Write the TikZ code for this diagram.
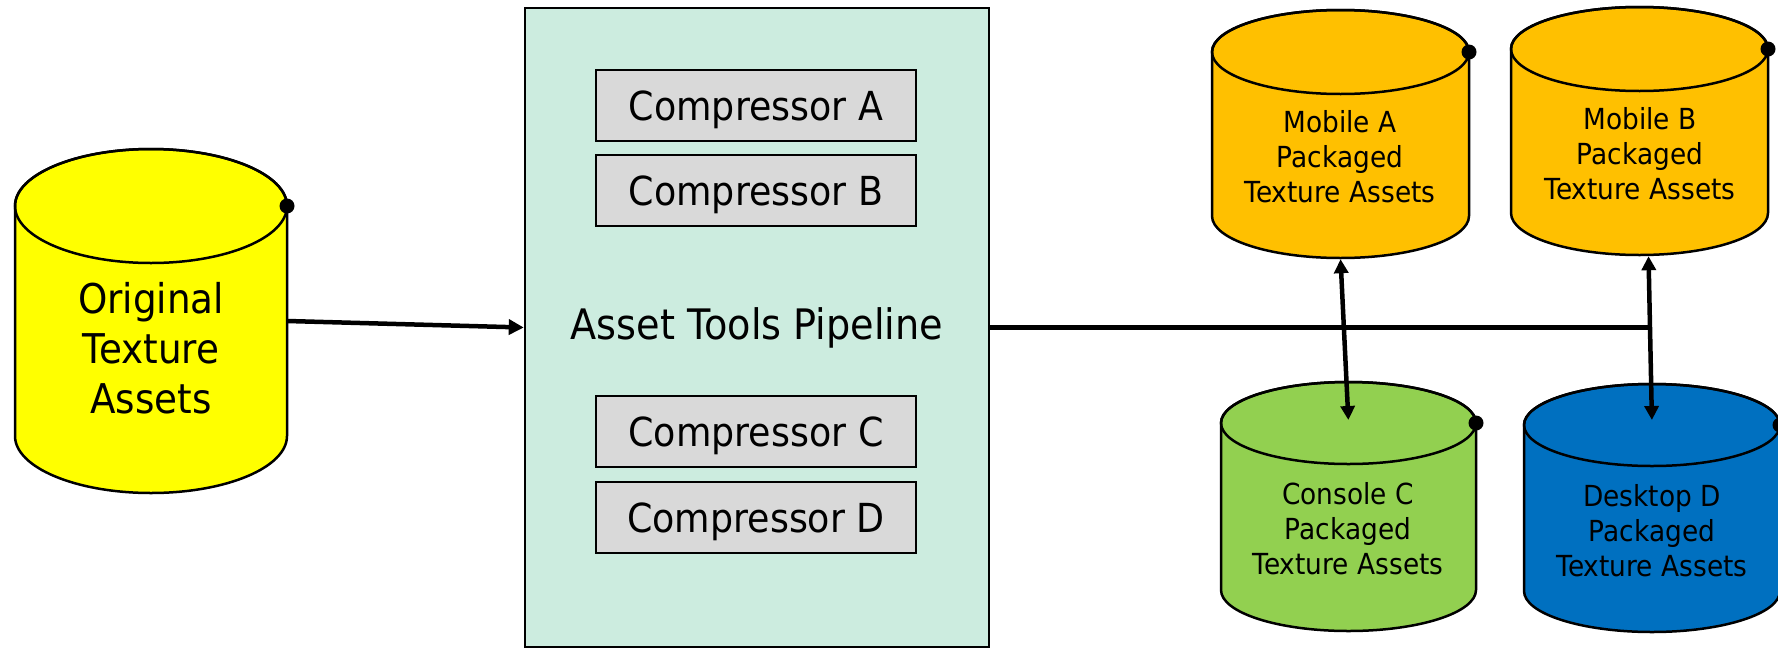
\documentclass[tikz,border=0pt]{standalone}
\usepackage{fontspec}
\setmainfont{DejaVu Sans}[FakeStretch=0.91]
\usetikzlibrary{arrows.meta,calc}
\definecolor{cyellow}{HTML}{FFFF00}
\definecolor{cmint}{RGB}{204,236,223}
\definecolor{cgray}{HTML}{D9D9D9}
\definecolor{corange}{HTML}{FFC000}
\definecolor{cgreen}{HTML}{92D050}
\definecolor{cblue}{HTML}{0070C0}
\tikzset{
  cylline/.style={draw=black, line width=2.5pt},
  hit/.style={rectangle, draw=none, inner sep=0pt},
  bigtxt/.style={font=\fontsize{41}{50}\selectfont, align=center, inner sep=0pt},
  smtxt/.style={font=\fontsize{29}{35}\selectfont, align=center, inner sep=0pt},
  pipebox/.style={rectangle, draw=black, fill=cmint, line width=2.5pt, inner sep=0pt, font=\fontsize{42}{50}\selectfont},
  comp/.style={rectangle, draw=black, fill=cgray, line width=2.5pt, inner sep=0pt, minimum width=320pt, minimum height=71pt, text depth=0pt, font=\fontsize{40}{50}\selectfont},
  arr/.style={line width=4.5pt, -{Triangle[length=15pt,width=15pt]}},
  dbl/.style={line width=4.5pt, {Triangle[length=14pt,width=14pt]}-{Triangle[length=14pt,width=14pt]}},
  busline/.style={line width=4.5pt},
}
\newcommand{\drawcyl}[7]{% name, left, right, top-ellipse centre y, bottom-ellipse centre y, ry, colour
  \pgfmathsetmacro\cylcx{(#2+#3)/2}%
  \pgfmathsetmacro\cylhw{(#3-#2)/2}%
  \pgfmathsetmacro\cylw{#3-#2}%
  \pgfmathsetmacro\cylh{#5-#4+2*#6}%
  \pgfmathsetmacro\cylcy{(#4+#5)/2}%
  \draw[cylline, fill=#7] (#2,#4) -- (#2,#5)
     arc[start angle=180, end angle=0, x radius=\cylhw, y radius=#6]
     -- (#3,#4)
     arc[start angle=0, end angle=-180, x radius=\cylhw, y radius=#6] -- cycle;
  \draw[cylline] (\cylcx,#4) ellipse[x radius=\cylhw, y radius=#6];
  \fill (#3,#4) circle[radius=7.5];
  \node[hit, minimum width=\cylw pt, minimum height=\cylh pt] (#1) at (\cylcx,\cylcy) {};
  \coordinate (#1-tc) at (\cylcx,#4);
}
\begin{document}
\begin{tikzpicture}[x=1pt, y=-1pt]
\useasboundingbox (0,0) rectangle (1778,648);
\clip (0,0) rectangle (1778,648);

% pipeline box
\node[pipebox, minimum width=464pt, minimum height=639pt] (pipe) at (757,327.5) {Asset Tools Pipeline};
\node[comp] (cA) at (756,105.5) {Compressor A};
\node[comp] (cB) at (756,190.5) {Compressor B};
\node[comp] (cCc) at (756,431.5) {Compressor C};
\node[comp] (cDc) at (756,517.5) {Compressor D};

% cylinders
\drawcyl{orig}{15}{287}{206}{436}{57}{cyellow}
\node[bigtxt] (origt) at (151,348) {Original\\Texture\\Assets};

\drawcyl{mA}{1212}{1469}{52}{216}{42}{corange}
\node[smtxt] (mAt) at (1340,157) {Mobile A\\Packaged\\Texture Assets};

\drawcyl{mB}{1511}{1768}{49}{213}{42}{corange}
\node[smtxt] (mBt) at (1640,154) {Mobile B\\Packaged\\Texture Assets};

\drawcyl{cC}{1221}{1476}{423}{590}{41}{cgreen}
\node[smtxt] (cCt) at (1348,529) {Console C\\Packaged\\Texture Assets};

\drawcyl{dD}{1524}{1780}{425}{591}{41}{cblue}
\node[smtxt] (dDt) at (1652,531) {Desktop D\\Packaged\\Texture Assets};

% connectors
\draw[arr] (orig.east) -- (pipe.west);
\coordinate (mBo) at ([xshift=9pt]mB.south);
\draw[busline] (pipe.east) -- ([xshift=1pt]pipe.east -| mBo);
\draw[dbl, shorten >=3pt, shorten <=1pt] (mA.south) -- (cC-tc);
\draw[dbl, shorten >=5pt, shorten <=1pt] (mBo) -- (dD-tc);
\end{tikzpicture}
\end{document}
